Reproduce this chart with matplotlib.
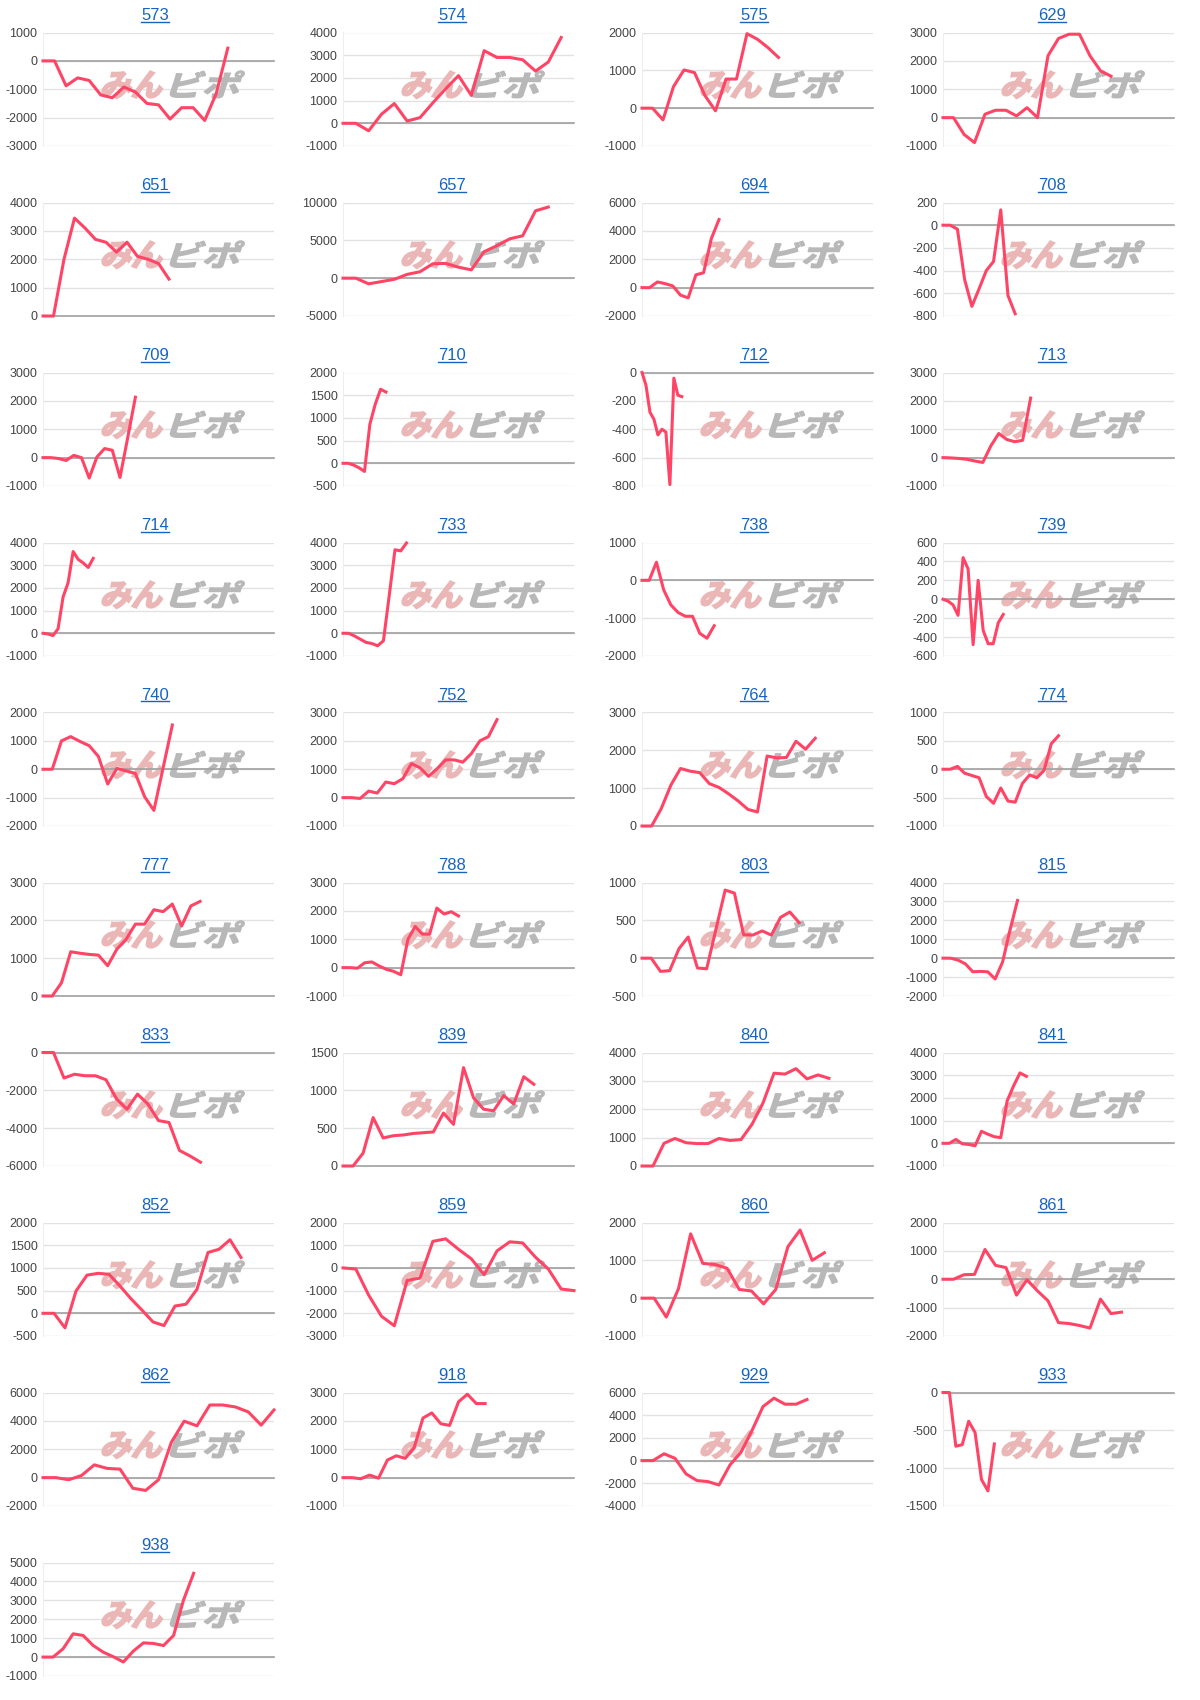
import numpy as np
import matplotlib.pyplot as plt
from matplotlib.lines import Line2D
from matplotlib.textpath import TextPath
from matplotlib.patches import PathPatch
from matplotlib.font_manager import FontProperties
from matplotlib.transforms import Affine2D

plt.rcParams['font.family'] = ['Liberation Sans', 'DejaVu Sans']
plt.rcParams['axes.unicode_minus'] = False

# cumulative values per chart
s573 = [0, 0, -880, -600, -690, -1200, -1300, -920, -1100, -1500, -1550, -2050, -1650, -1650, -2100, -1150, 450]
s574 = [0, 0, -330, 400, 870, 100, 250, 900, 1520, 2100, 1230, 3200, 2900, 2900, 2800, 2300, 2700, 3780]
s575 = [0, 0, -310, 570, 1010, 940, 330, -70, 770, 770, 1970, 1820, 1600, 1340]
s629 = [0, 0, -590, -880, 120, 260, 260, 60, 350, 0, 2180, 2790, 2940, 2940, 2180, 1650, 1460]
s651 = [0, 0, 2000, 3450, 3100, 2700, 2600, 2250, 2600, 2100, 2000, 1850, 1300]
s657 = [0, 0, -750, -450, -150, 500, 850, 1900, 1950, 1450, 1100, 3500, 4300, 5200, 5600, 8900, 9400]
s694 = [0, 0, 400, 280, 120, -530, -720, 900, 1050, 3450, 4800]
s708 = [0, 0, -35, -480, -715, -560, -400, -320, 135, -620, -780]
s709 = [0, 0, -30, -100, 80, 0, -720, 20, 320, 260, -700, 700, 2130]
s710 = [0, 0, -40, -100, -180, 860, 1300, 1630, 1570]
s712 = [0, -90, -280, -330, -440, -400, -420, -790, -40, -160, -170]
s713 = [0, -10, -30, -60, -120, -170, 410, 850, 640, 560, 610, 2100]
s714 = [0, -30, -100, 200, 1600, 2230, 3600, 3260, 3100, 2900, 3300]
s733 = [0, 0, -120, -260, -400, -450, -550, -330, 1650, 3680, 3630, 3980]
s738 = [0, 0, 480, -250, -650, -850, -950, -950, -1400, -1530, -1200]
s739 = [0, -20, -60, -170, 440, 320, -480, 200, -330, -470, -470, -250, -160]
s740 = [0, 0, 1000, 1150, 980, 830, 450, -520, 30, -60, -150, -970, -1450, 50, 1560]
s752 = [0, 0, -30, 230, 160, 550, 490, 670, 1200, 1050, 750, 1020, 1330, 1330, 1250, 1550, 2000, 2150, 2750]
s764 = [0, 0, 460, 1080, 1520, 1450, 1410, 1120, 1020, 850, 660, 440, 370, 1850, 1800, 1810, 2240, 2030, 2320]
s774 = [0, 0, 50, -70, -110, -150, -480, -600, -330, -560, -580, -250, -100, -150, -20, 450, 590]
s777 = [0, 0, 350, 1170, 1130, 1100, 1080, 800, 1240, 1500, 1900, 1900, 2280, 2230, 2430, 1850, 2380, 2500]
s788 = [0, 0, -20, 170, 200, 60, -60, -130, -250, 1000, 1450, 1180, 1180, 2100, 1890, 1970, 1820]
s803 = [0, 0, -175, -165, 125, 280, -130, -140, 380, 900, 860, 310, 305, 360, 305, 540, 610, 470]
s815 = [0, 0, -100, -300, -720, -700, -720, -1100, -200, 1500, 3050]
s833 = [0, 0, -1350, -1150, -1230, -1230, -1440, -2450, -3000, -2200, -2730, -3600, -3700, -5180, -5470, -5800]
s839 = [0, 0, 170, 640, 370, 400, 410, 430, 440, 450, 700, 550, 1300, 900, 750, 730, 930, 820, 1180, 1080]
s840 = [0, 0, 800, 970, 820, 790, 790, 970, 900, 930, 1470, 2220, 3270, 3240, 3430, 3070, 3210, 3090]
s841 = [0, 0, 170, -20, -50, -110, 530, 400, 290, 250, 1870, 2530, 3100, 2950]
s852 = [0, 0, -320, 490, 840, 880, 860, 600, 320, 70, -190, -270, 160, 200, 530, 1340, 1410, 1620, 1230]
s859 = [0, -50, -1200, -2130, -2550, -550, -450, 1170, 1280, 820, 400, -300, 750, 1150, 1100, 470, -50, -930, -1000]
s860 = [0, 0, -500, 250, 1700, 920, 890, 790, 230, 190, -150, 230, 1360, 1800, 1000, 1200]
s861 = [0, 0, 160, 170, 1050, 490, 410, -560, -20, -410, -760, -1530, -1560, -1630, -1720, -700, -1210, -1160]
s862 = [0, 0, -150, 150, 900, 650, 600, -750, -900, -150, 2490, 3980, 3650, 5120, 5120, 4980, 4630, 3700, 4770]
s918 = [0, 0, -40, 90, -20, 620, 770, 680, 1050, 2100, 2280, 1900, 1840, 2670, 2940, 2610, 2610]
s929 = [0, 0, 600, 200, -1170, -1760, -1850, -2150, -380, 730, 2650, 4760, 5500, 4970, 4970, 5380]
s933 = [0, 0, -710, -690, -380, -530, -1150, -1300, -680]
s938 = [0, 0, 440, 1230, 1140, 610, 260, 20, -260, 320, 750, 720, 610, 1140, 3030, 4430]

titles = ['573', '574', '575', '629', '651', '657', '694', '708', '709', '710',
          '712', '713', '714', '733', '738', '739', '740', '752', '764', '774',
          '777', '788', '803', '815', '833', '839', '840', '841', '852', '859',
          '860', '861', '862', '918', '929', '933', '938']
series = [s573, s574, s575, s629, s651, s657, s694, s708, s709, s710,
          s712, s713, s714, s733, s738, s739, s740, s752, s764, s774,
          s777, s788, s803, s815, s833, s839, s840, s841, s852, s859,
          s860, s861, s862, s918, s929, s933, s938]
# number of x slots on each chart (the rest of the period is empty)
x_slots = [20, 18, 22, 22, 22, 18, 30, 32, 30, 43,
           58, 29, 46, 40, 32, 46, 25, 27, 24, 32,
           25, 32, 25, 31, 22, 23, 21, 36, 21, 18,
           19, 22, 18, 26, 21, 36, 23]
y_ranges = [(-3000, 1000, 1000), (-1000, 4000, 1000), (-1000, 2000, 1000), (-1000, 3000, 1000),
            (0, 4000, 1000), (-5000, 10000, 5000), (-2000, 6000, 2000), (-800, 200, 200),
            (-1000, 3000, 1000), (-500, 2000, 500), (-800, 0, 200), (-1000, 3000, 1000),
            (-1000, 4000, 1000), (-1000, 4000, 1000), (-2000, 1000, 1000), (-600, 600, 200),
            (-2000, 2000, 1000), (-1000, 3000, 1000), (0, 3000, 1000), (-1000, 1000, 500),
            (0, 3000, 1000), (-1000, 3000, 1000), (-500, 1000, 500), (-2000, 4000, 1000),
            (-6000, 0, 2000), (0, 1500, 500), (0, 4000, 1000), (-1000, 4000, 1000),
            (-500, 2000, 500), (-3000, 2000, 1000), (-1000, 2000, 1000), (-2000, 2000, 1000),
            (-2000, 6000, 2000), (-1000, 3000, 1000), (-4000, 6000, 2000), (-1500, 0, 500),
            (-1000, 5000, 1000)]

W, H = 1200, 1700
fig = plt.figure(figsize=(12, 17), dpi=100)

col_left = [43, 343, 642, 943]
col_title = [155, 452, 754, 1052]
ax_w, ax_h = 231, 113.5
row_top, row_step = 32.5, 170

jp = FontProperties(family='Noto Sans CJK JP', weight='bold')
pink_path = TextPath((0, 0), 'みん', prop=jp, size=1)
grey_path = TextPath((0, 0), 'ビポ', prop=jp, size=1)

title_texts = []
for i, (name, s) in enumerate(zip(titles, series)):
    r, c = divmod(i, 4)
    top = row_top + r * row_step
    ax = fig.add_axes([col_left[c] / W, 1 - (top + ax_h) / H, ax_w / W, ax_h / H])
    lo, hi, step = y_ranges[i]
    ax.set_ylim(lo, hi)
    ax.set_yticks(np.arange(lo, hi + step / 2, step))
    ax.set_xlim(0, x_slots[i])
    ax.set_xticks([])
    ax.grid(axis='y', color='#e2e2e2', lw=1)
    ax.set_axisbelow(True)
    for sp in ['top', 'right', 'bottom']:
        ax.spines[sp].set_visible(False)
    ax.spines['left'].set_color('#eeeeee')
    ax.tick_params(axis='y', length=0, pad=4, labelsize=9, labelcolor='#444444')
    ax.axhline(0, color='#a0a0a0', lw=1.2, zorder=1.5, clip_on=False)

    # watermark logo
    sk = Affine2D().skew_deg(14, 0)
    ax.add_patch(PathPatch(pink_path, fc='#eab6b6', ec='#eab6b6', lw=1.4, zorder=1,
                           transform=sk + Affine2D().scale(31 / ax_w, 31 / ax_h).translate(0.245, 0.44) + ax.transAxes))
    ax.add_patch(PathPatch(grey_path, fc='#b8b8b8', ec='#b8b8b8', lw=1.0, zorder=1,
                           transform=sk + Affine2D().scale(38 / ax_w, 29 / ax_h).translate(0.52, 0.44) + ax.transAxes))

    ax.plot(range(len(s)), s, color='#ff4466', lw=2.2, zorder=3, clip_on=False)

    t = fig.text(col_title[c] / W, 1 - (top - 17.5) / H, name, ha='center', va='center',
                 fontsize=12, color='#1565c0')
    title_texts.append(t)

# underline the titles like links
renderer = fig.canvas.get_renderer()
for t in title_texts:
    bb = t.get_window_extent(renderer=renderer)
    yy = (bb.y0 + 1) / H
    fig.add_artist(Line2D([bb.x0 / W, bb.x1 / W], [yy, yy], transform=fig.transFigure,
                          color='#1565c0', lw=1))

fig.savefig('out.png', dpi=100, facecolor='white')
